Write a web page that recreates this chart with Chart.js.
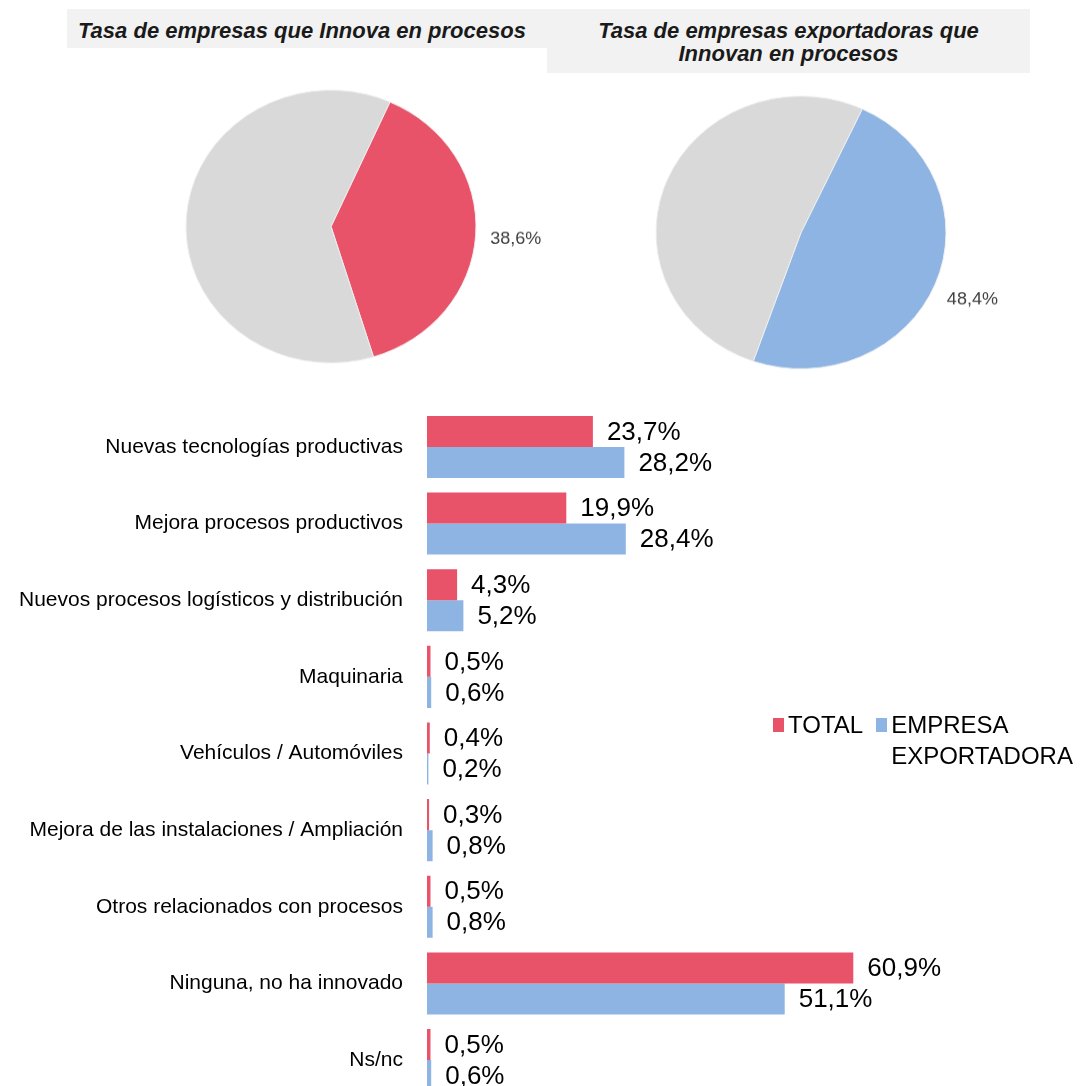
<!DOCTYPE html>
<html>
<head>
<meta charset="utf-8">
<script src="https://cdn.jsdelivr.net/npm/chart.js@4/dist/chart.umd.min.js"></script>
<style>
  body { margin: 0; width: 1083px; height: 1086px; overflow: hidden; position: relative; background: #fff; font-family: 'Liberation Sans', Arial, sans-serif; }
  .title { position: absolute; background: #f2f2f2; color: #1a1a1a; font: italic bold 22px 'Liberation Sans', Arial, sans-serif; line-height: 23px; text-align: center; }
  #t1 { left: 67px; top: 9px; width: 481px; height: 39px; padding-top: 10px; box-sizing: border-box; text-align: left; padding-left: 11px; }
  #t2 { left: 547px; top: 9px; width: 483px; height: 64px; padding-top: 10px; box-sizing: border-box; }
  canvas { position: absolute; }
  #pie1 { left: 111px; top: 81px; transform: scaleY(0.94); }
  #pie2 { left: 581px; top: 87px; transform: scaleY(0.94); }
  #bars { left: 0; top: 372px; }
  #legend { position: absolute; left: 773px; top: 709px; font-size: 24px; line-height: 31px; color: #000; display: flex; align-items: flex-start; }
  #legend .item { display: flex; align-items: flex-start; }
  #legend .item + .item { margin-left: 13px; }
  #legend .box { width: 11px; height: 14px; margin-top: 9px; margin-right: 4px; flex: none; }
</style>
</head>
<body>
<div class="title" id="t1">Tasa de empresas que Innova en procesos</div>
<div class="title" id="t2">Tasa de empresas exportadoras que<br>Innovan en procesos</div>
<canvas id="pie1" width="440" height="291"></canvas>
<canvas id="pie2" width="440" height="291"></canvas>
<canvas id="bars" width="1083" height="763"></canvas>
<div id="legend"></div>
<script>
document.addEventListener('DOMContentLoaded', () => {
    const RED = '#e9536a';
    const BLUE = '#8eb4e3';
    const GREY = '#d9d9d9';

    // pies: share that innovates vs the rest
    const pieTotal = [38.6, 61.4];
    const pieExport = [48.4, 51.6];

    const categories = [
        'Nuevas tecnologías productivas',
        'Mejora procesos productivos',
        'Nuevos procesos logísticos y distribución',
        'Maquinaria',
        'Vehículos / Automóviles',
        'Mejora de las instalaciones / Ampliación',
        'Otros relacionados con procesos',
        'Ninguna, no ha innovado',
        'Ns/nc'
    ];
    const seriesNames = ['TOTAL', 'EMPRESA\nEXPORTADORA'];
    const totalValues = [23.7, 19.9, 4.3, 0.5, 0.4, 0.3, 0.5, 60.9, 0.5];
    const exportValues = [28.2, 28.4, 5.2, 0.6, 0.2, 0.8, 0.8, 51.1, 0.6];

    const fmt = v => v.toFixed(1).replace('.', ',') + '%';

    // label for the first slice, placed outside the pie
    const pieLabel = {
        id: 'pieLabel',
        afterDatasetsDraw(chart) {
            const arc = chart.getDatasetMeta(0).data[0];
            const value = chart.data.datasets[0].data[0];
            const mid = (arc.startAngle + arc.endAngle) / 2;
            const r = arc.outerRadius + 40;
            const ctx = chart.ctx;
            ctx.save();
            ctx.font = '18px "Liberation Sans", Arial, sans-serif';
            ctx.fillStyle = '#404040';
            ctx.textAlign = 'center';
            ctx.textBaseline = 'middle';
            ctx.fillText(fmt(value), arc.x + Math.cos(mid) * r, arc.y + Math.sin(mid) * r + 2);
            ctx.restore();
        }
    };

    function makePie(id, data, color, rotation) {
        new Chart(document.getElementById(id), {
            type: 'pie',
            data: { datasets: [{ data: data, backgroundColor: [color, GREY], borderColor: '#eeeeee', borderWidth: 1 }] },
            options: {
                responsive: false, animation: false, rotation: rotation,
                layout: { padding: 0 },
                plugins: { legend: { display: false }, tooltip: { enabled: false } }
            },
            plugins: [pieLabel]
        });
    }

    makePie('pie1', pieTotal, RED, 24);
    makePie('pie2', pieExport, BLUE, 25);

    const barLabels = {
        id: 'barLabels',
        afterDatasetsDraw(chart) {
            const ctx = chart.ctx;
            ctx.save();
            ctx.font = '26px "Liberation Sans", Arial, sans-serif';
            ctx.fillStyle = '#000';
            ctx.textAlign = 'left';
            ctx.textBaseline = 'middle';
            chart.data.datasets.forEach((ds, i) => {
                chart.getDatasetMeta(i).data.forEach((bar, j) => {
                    ctx.fillText(fmt(ds.data[j]), bar.x + 14, bar.y + 1);
                });
            });
            ctx.restore();
        }
    };

    new Chart(document.getElementById('bars'), {
        type: 'bar',
        data: {
            labels: categories,
            datasets: [
                { label: seriesNames[0], data: totalValues, backgroundColor: RED },
                { label: seriesNames[1], data: exportValues, backgroundColor: BLUE }
            ]
        },
        options: {
            indexAxis: 'y', responsive: false, animation: false,
            categoryPercentage: 0.81, barPercentage: 1.0,
            layout: { padding: { top: 0, right: 96, bottom: 0, left: 0 } },
            scales: {
                x: { display: false, min: 0, max: 80 },
                y: {
                    grid: { display: false, drawTicks: false },
                    border: { display: false },
                    ticks: { color: '#000', padding: 24, font: { family: '"Liberation Sans", Arial, sans-serif', size: 21 } },
                    afterFit(scale) { scale.width = 427; }
                }
            },
            plugins: { legend: { display: false }, tooltip: { enabled: false } }
        },
        plugins: [barLabels]
    });

    // legend, built from the series names
    const legend = document.getElementById('legend');
    [RED, BLUE].forEach((c, i) => {
        const item = document.createElement('div');
        item.className = 'item';
        item.innerHTML = `<span class="box" style="background:${c}"></span><span>${seriesNames[i].replace('\n', '<br>')}</span>`;
        legend.appendChild(item);
    });
});
</script>
</body>
</html>
